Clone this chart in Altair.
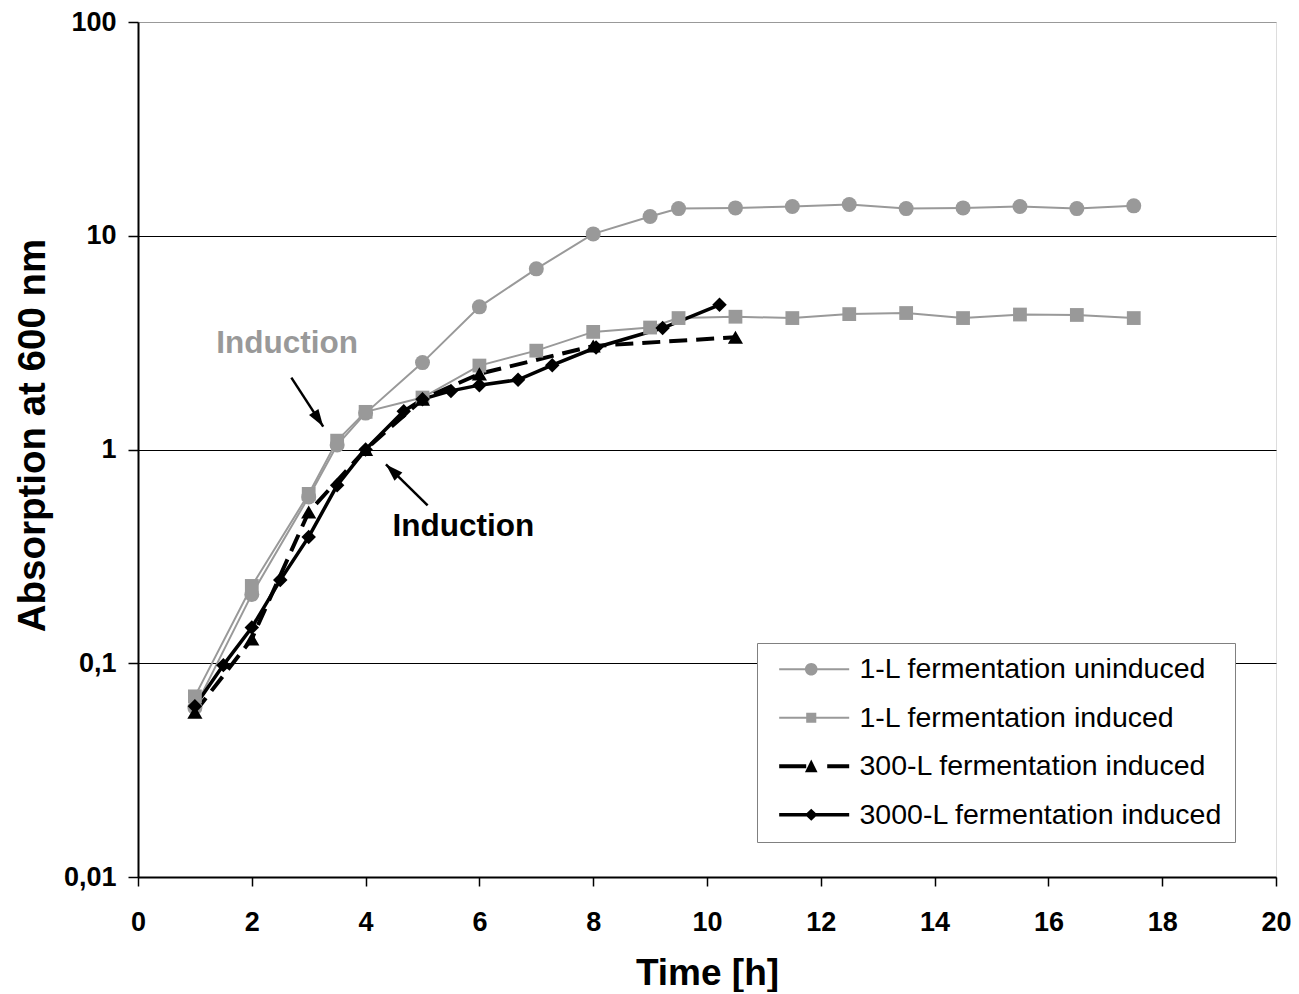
import altair as alt
import pandas as pd

FONT = "Liberation Sans"

series_names = [
    "1-L fermentation uninduced",
    "1-L fermentation induced",
    "300-L fermentation induced",
    "3000-L fermentation induced",
]

t_1l_uninduced = [1, 2, 3, 3.5, 4, 5, 6, 7, 8, 9, 9.5, 10.5, 11.5, 12.5, 13.5, 14.5, 15.5, 16.5, 17.5]
v_1l_uninduced = [0.062, 0.21, 0.6, 1.05, 1.48, 2.55, 4.65, 7.0, 10.2, 12.3, 13.4, 13.5, 13.7, 14.0, 13.4, 13.5, 13.7, 13.4, 13.8]

t_1l_induced = [1, 2, 3, 3.5, 4, 5, 6, 7, 8, 9, 9.5, 10.5, 11.5, 12.5, 13.5, 14.5, 15.5, 16.5, 17.5]
v_1l_induced = [0.07, 0.23, 0.62, 1.1, 1.5, 1.75, 2.47, 2.9, 3.55, 3.72, 4.12, 4.18, 4.12, 4.30, 4.35, 4.12, 4.28, 4.26, 4.12]

t_300l = [1, 2, 3, 4, 5, 6, 8, 10.5]
v_300l = [0.059, 0.13, 0.51, 1.0, 1.72, 2.26, 3.05, 3.35]

t_3000l = [1, 1.5, 2, 2.5, 3, 3.5, 4, 4.67, 5, 5.5, 6, 6.68, 7.28, 8.05, 9.22, 10.22]
v_3000l = [0.063, 0.098, 0.147, 0.245, 0.39, 0.68, 1.0, 1.51, 1.72, 1.88, 2.0, 2.12, 2.48, 3.0, 3.7, 4.75]

x_ticks = list(range(0, 21, 2))
y_ticks = [0.01, 0.1, 1, 10, 100]

ann_text = ["Induction", "Induction"]
ann_x = [2.62, 5.72]
ann_y = [3.13, 0.432]

arrow_x_start = [2.695, 5.09]
arrow_y_start = [2.17, 0.548]
arrow_x_end = [3.255, 4.357]
arrow_y_end = [1.28, 0.851]

# ---- styles ----
GREY = "#999999"
series_colors = [GREY, GREY, "#000000", "#000000"]
series_widths = [2, 2, 4, 3.5]
series_dash = [None, None, [18, 9], None]
series_shapes = ["circle", "square", "triangle-up", "diamond"]
series_sizes = [225, 190, 230, 210]
# legend symbols (filled paths, 14 px per unit): line segment(s) + marker centred at x=2
legend_paths = [
    "M-0.29,-0.075H4.71V0.075H-0.29Z"
    "M1.55,0A0.45,0.45 0 1,1 2.45,0A0.45,0.45 0 1,1 1.55,0Z",
    "M-0.29,-0.075H4.71V0.075H-0.29Z"
    "M1.64,-0.36H2.36V0.36H1.64Z",
    "M-0.29,-0.15H1.64V0.15H-0.29Z"
    "M3.14,-0.15H4.71V0.15H3.14Z"
    "M2,-0.48L2.45,0.42L1.55,0.42Z",
    "M-0.29,-0.13H4.71V0.13H-0.29Z"
    "M2,-0.43L2.45,0L2,0.43L1.55,0Z",
]

rows = []
for name, ts, vs in zip(series_names,
                        [t_1l_uninduced, t_1l_induced, t_300l, t_3000l],
                        [v_1l_uninduced, v_1l_induced, v_300l, v_3000l]):
    for t, v in zip(ts, vs):
        rows.append({"series": name, "time": t, "od": v})
df = pd.DataFrame(rows)

ann_df = pd.DataFrame({"text": ann_text, "x": ann_x, "y": ann_y})
arrow_df = pd.DataFrame({"x": arrow_x_start, "y": arrow_y_start,
                         "x2": arrow_x_end, "y2": arrow_y_end})

x_scale = alt.Scale(domain=[0, 20], nice=False, zero=False)
y_scale = alt.Scale(type="log", domain=[0.01, 100], nice=False)

x_axis = alt.Axis(values=x_ticks, format="d", grid=False, title="Time [h]", labelFlush=False,
                  labelFont=FONT, labelFontSize=27, labelFontWeight="bold", labelColor="black",
                  tickSize=9, tickColor="black", tickWidth=1.5, domainColor="black", domainWidth=2,
                  labelPadding=23, titleFont=FONT, titleFontSize=37, titleFontWeight="bold",
                  titleColor="black", titlePadding=20)
y_axis = alt.Axis(values=y_ticks, grid=True, labelFlush=False,
                  gridColor=alt.condition("datum.value == 100", alt.value(GREY), alt.value("black")),
                  gridWidth=1,
                  labelExpr="replace(toString(datum.value), '.', ',')",
                  title="Absorption at 600 nm",
                  labelFont=FONT, labelFontSize=27, labelFontWeight="bold", labelColor="black",
                  tickSize=10, tickColor="black", tickWidth=1.5, domainColor="black", domainWidth=2,
                  labelPadding=12, titleFont=FONT, titleFontSize=38.5, titleFontWeight="bold",
                  titleColor="black", titlePadding=11, titleY=413)

X = alt.X("time:Q", scale=x_scale, axis=x_axis)
Y = alt.Y("od:Q", scale=y_scale, axis=y_axis)

layers = []
# lines
for name, col, w, dash in zip(series_names, series_colors, series_widths, series_dash):
    kw = dict(color=col, strokeWidth=w)
    if dash is not None:
        kw["strokeDash"] = dash
    layers.append(
        alt.Chart(df).transform_filter(alt.datum.series == name)
        .mark_line(**kw).encode(x=X, y=Y, order="time:Q")
    )
# markers
for name, col, shp, sz in zip(series_names, series_colors, series_shapes, series_sizes):
    layers.append(
        alt.Chart(df).transform_filter(alt.datum.series == name)
        .mark_point(filled=True, opacity=1, color=col, shape=shp, size=sz)
        .encode(x=X, y=Y)
    )

# annotation arrows
layers.append(
    alt.Chart(arrow_df).mark_rule(color="black", strokeWidth=2.5).encode(
        x=alt.X("x:Q", scale=x_scale), y=alt.Y("y:Q", scale=y_scale),
        x2="x2:Q", y2="y2:Q")
)
head_path = "M0,0L0.55,1.7L-0.55,1.7Z"
for i, ang in enumerate([147, 314]):
    layers.append(
        alt.Chart(arrow_df.iloc[[i]]).mark_point(filled=True, opacity=1, color="black",
                                                 shape=head_path, size=420, angle=ang)
        .encode(x=alt.X("x2:Q", scale=x_scale), y=alt.Y("y2:Q", scale=y_scale))
    )

# annotation texts
for i, col in enumerate([GREY, "black"]):
    layers.append(
        alt.Chart(ann_df.iloc[[i]]).mark_text(font=FONT, fontSize=31.5, fontWeight="bold",
                                              color=col, align="center", baseline="middle")
        .encode(x=alt.X("x:Q", scale=x_scale), y=alt.Y("y:Q", scale=y_scale), text="text:N")
    )

# legend layer (no marks; legend from explicit scale domain)
legend_def = alt.Legend(title=None, orient="none", legendX=619, legendY=621,
                        direction="vertical", columns=1,
                        labelFont=FONT, labelFontSize=28.5, labelColor="black", labelLimit=0,
                        symbolSize=784, symbolStrokeWidth=0, rowPadding=19.5, labelOffset=62,
                        padding=12, strokeColor="#808080", fillColor="white", symbolOpacity=1)
layers.append(
    alt.Chart(df).transform_filter("false").mark_point(filled=True, opacity=1).encode(
        fill=alt.Fill("series:N", scale=alt.Scale(domain=series_names, range=series_colors), legend=legend_def),
        shape=alt.Shape("series:N", scale=alt.Scale(domain=series_names, range=legend_paths), legend=legend_def),
    )
)

chart = alt.layer(*layers).properties(
    width=1138, height=855,
    autosize=alt.AutoSizeParams(type="none"),
    padding={"left": 130, "top": 14, "right": 15, "bottom": 115},
).configure_view(stroke=GREY, strokeWidth=2).configure(background="white")

chart.save("out.html", embed_options={"renderer": "svg", "actions": False})
